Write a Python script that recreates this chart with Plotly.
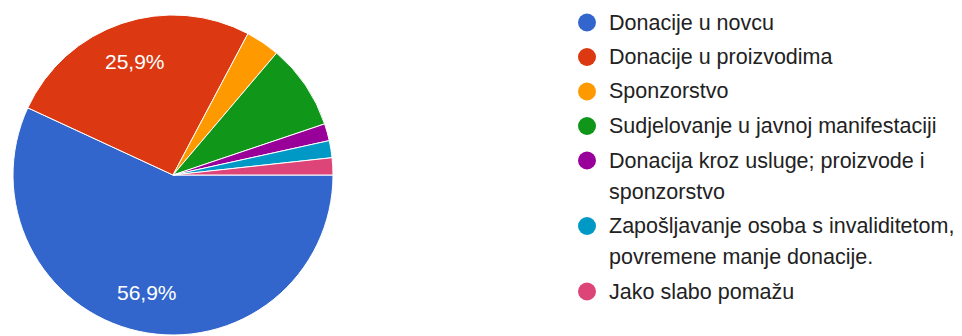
import math
import plotly.graph_objects as go

W, H = 962, 336
# the page body has an 8px margin, so everything is laid out 8px up/left
MT, MB = 7, 9
CX, CY, R = 165, 167, 160

labels = [
    "Donacije u novcu",
    "Donacije u proizvodima",
    "Sponzorstvo",
    "Sudjelovanje u javnoj manifestaciji",
    "Donacija kroz usluge; proizvode i<br>sponzorstvo",
    "Zapošljavanje osoba s invaliditetom,<br>povremene manje donacije.",
    "Jako slabo pomažu",
]
values = [33, 15, 2, 5, 1, 1, 1]
colors = ["#3366cc", "#dc3912", "#ff9900", "#109618", "#990099", "#0099c6", "#dd4477"]

FONT = "Liberation Sans, Arial, sans-serif"
total = sum(values)


def px2x(px):
    return px / W


def px2y(py):
    return (H - MB - py) / (H - MT - MB)


fig = go.Figure()
fig.add_trace(go.Pie(
    labels=[l.replace("<br>", " ") for l in labels],
    values=values,
    textinfo="none",
    marker=dict(colors=colors, line=dict(color="white", width=1)),
    sort=False,
    direction="clockwise",
    rotation=90,
    showlegend=False,
    hoverinfo="label+percent",
    domain=dict(x=[px2x(CX - R), px2x(CX + R)], y=[0, 1]),
))

annotations = []
shapes = []

# percentage labels, only on the big slices (google forms style)
acc = 0
for v in values:
    share = v / total
    mid = (acc + share / 2) * 2 * math.pi  # clockwise from 3 o'clock
    acc += share
    if share < 0.1:
        continue
    annotations.append(dict(
        text=f"{share * 100:.1f}%".replace(".", ","),
        xref="paper", yref="paper",
        x=px2x(CX + 0.75 * R * math.cos(mid)), y=px2y(CY + 0.75 * R * math.sin(mid)),
        xanchor="center", yanchor="middle", showarrow=False,
        font=dict(family=FONT, size=21, color="white"),
    ))

# legend drawn by hand so the line spacing matches google forms
y = 14.5
for lab, col in zip(labels, colors):
    shapes.append(dict(
        type="circle", xref="paper", yref="paper",
        xsizemode="pixel", ysizemode="pixel",
        xanchor=px2x(579), yanchor=px2y(y),
        x0=-9, x1=9, y0=-9, y1=9,
        fillcolor=col, line=dict(width=0),
    ))
    for line in lab.split("<br>"):
        annotations.append(dict(
            text=line, xref="paper", yref="paper",
            x=px2x(599), y=px2y(y), xanchor="left", yanchor="middle",
            showarrow=False,
            font=dict(family=FONT, size=21.5, color="#222222"),
        ))
        y += 31
    y += 3.5

fig.update_layout(
    width=W, height=H,
    margin=dict(l=0, r=0, t=MT, b=MB),
    paper_bgcolor="white",
    plot_bgcolor="white",
    annotations=annotations,
    shapes=shapes,
)

fig.write_html("out.html")
